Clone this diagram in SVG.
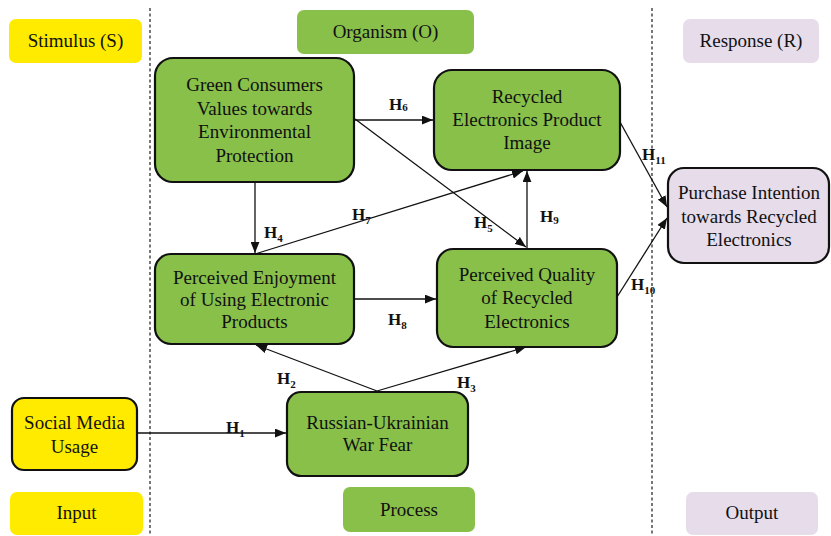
<svg xmlns="http://www.w3.org/2000/svg" width="831" height="536" viewBox="0 0 831 536">
<style>
text{font-family:"Liberation Serif","Times New Roman",serif;fill:#111}
.t{font-size:19px;text-anchor:middle}
.h{font-size:17px;font-weight:bold}
.s{font-size:11px;font-weight:bold}
.y{fill:#FFEB00}
.g{fill:#88C04A}
.p{fill:#E6DCEA}
.n{stroke:#111;stroke-width:2.2}
.c{stroke:#111;stroke-width:1.3;fill:none}
.d{stroke:#555;stroke-width:1.6;stroke-dasharray:3,2.5}
</style>
<defs>
<marker id="a" viewBox="0 0 10 8" refX="10" refY="4" markerWidth="11" markerHeight="9" markerUnits="userSpaceOnUse" orient="auto">
<path d="M0,0L10,4L0,8z" fill="#111"/>
</marker>
</defs>
<rect width="831" height="536" fill="#fff"/>
<g id="dividers">
<line class="d" x1="150" y1="8" x2="150" y2="536"/>
<line class="d" x1="652" y1="8" x2="652" y2="536"/>
</g>
<g id="labels">
<g id="stimulus"><rect class="y" x="9" y="19" width="133" height="44" rx="7"/><text class="t" x="75.5" y="47">Stimulus (S)</text></g>
<g id="organism"><rect class="g" x="297" y="10" width="177" height="44" rx="7"/><text class="t" x="385.5" y="38">Organism (O)</text></g>
<g id="response"><rect class="p" x="683" y="19" width="136" height="44" rx="7"/><text class="t" x="751" y="47">Response (R)</text></g>
<g id="input"><rect class="y" x="10" y="492" width="133" height="43" rx="7"/><text class="t" x="76.5" y="519">Input</text></g>
<g id="process"><rect class="g" x="343" y="487" width="132" height="45" rx="7"/><text class="t" x="409" y="516">Process</text></g>
<g id="output"><rect class="p" x="686" y="492" width="132" height="43" rx="7"/><text class="t" x="752" y="519">Output</text></g>
</g>
<g id="connectors">
<line class="c" x1="137" y1="433" x2="286" y2="433" marker-end="url(#a)"/>
<line class="c" x1="377" y1="391" x2="256" y2="345" marker-end="url(#a)"/>
<line class="c" x1="377" y1="391" x2="526" y2="347" marker-end="url(#a)"/>
<line class="c" x1="255" y1="182" x2="255" y2="253" marker-end="url(#a)"/>
<line class="c" x1="355" y1="119" x2="526" y2="247" marker-end="url(#a)"/>
<line class="c" x1="355" y1="120" x2="433" y2="120" marker-end="url(#a)"/>
<line class="c" x1="255" y1="254" x2="523" y2="171" marker-end="url(#a)"/>
<line class="c" x1="354" y1="299" x2="436" y2="299" marker-end="url(#a)"/>
<line class="c" x1="527" y1="248" x2="527" y2="171" marker-end="url(#a)"/>
<line class="c" x1="617" y1="297" x2="667" y2="218" marker-end="url(#a)"/>
<line class="c" x1="620" y1="122" x2="667" y2="207" marker-end="url(#a)"/>
</g>
<g id="hyp">
<text class="h" x="226" y="433">H<tspan class="s" dy="4">1</tspan></text>
<text class="h" x="277" y="384">H<tspan class="s" dy="4">2</tspan></text>
<text class="h" x="457" y="388">H<tspan class="s" dy="4">3</tspan></text>
<text class="h" x="264" y="238">H<tspan class="s" dy="4">4</tspan></text>
<text class="h" x="474" y="228">H<tspan class="s" dy="4">5</tspan></text>
<text class="h" x="389" y="110">H<tspan class="s" dy="1">6</tspan></text>
<text class="h" x="352" y="220">H<tspan class="s" dy="4">7</tspan></text>
<text class="h" x="388" y="325">H<tspan class="s" dy="4">8</tspan></text>
<text class="h" x="540" y="222">H<tspan class="s" dy="2">9</tspan></text>
<text class="h" x="631" y="290">H<tspan class="s" dy="4">10</tspan></text>
<text class="h" x="642" y="160">H<tspan class="s" dy="4">11</tspan></text>
</g>
<g id="green-values"><rect class="g n" x="155" y="58" width="199" height="124" rx="18"/>
<text class="t" x="254.5" y="91">Green Consumers</text><text class="t" x="254.5" y="114.5">Values towards</text><text class="t" x="254.5" y="138">Environmental</text><text class="t" x="254.5" y="161.5">Protection</text></g>
<g id="product-image"><rect class="g n" x="434" y="70" width="186" height="100" rx="18"/>
<text class="t" x="527" y="103">Recycled</text><text class="t" x="527" y="126">Electronics Product</text><text class="t" x="527" y="149">Image</text></g>
<g id="enjoyment"><rect class="g n" x="155" y="254" width="199" height="90" rx="16"/>
<text class="t" x="254.5" y="284">Perceived Enjoyment</text><text class="t" x="254.5" y="306">of Using Electronic</text><text class="t" x="254.5" y="328">Products</text></g>
<g id="quality"><rect class="g n" x="437" y="249" width="180" height="98" rx="16"/>
<text class="t" x="527" y="281">Perceived Quality</text><text class="t" x="527" y="304">of Recycled</text><text class="t" x="527" y="328">Electronics</text></g>
<g id="social-media"><rect class="y n" x="12" y="398" width="125" height="72" rx="12"/>
<text class="t" x="74.5" y="429">Social Media</text><text class="t" x="74.5" y="453">Usage</text></g>
<g id="war-fear"><rect class="g n" x="287" y="392" width="181" height="84" rx="14"/>
<text class="t" x="377.5" y="429">Russian-Ukrainian</text><text class="t" x="377.5" y="451">War Fear</text></g>
<g id="purchase"><rect class="p n" x="668" y="168" width="161" height="95" rx="16"/>
<text class="t" x="749" y="199">Purchase Intention</text><text class="t" x="749" y="223">towards Recycled</text><text class="t" x="749" y="246">Electronics</text></g>
</svg>
